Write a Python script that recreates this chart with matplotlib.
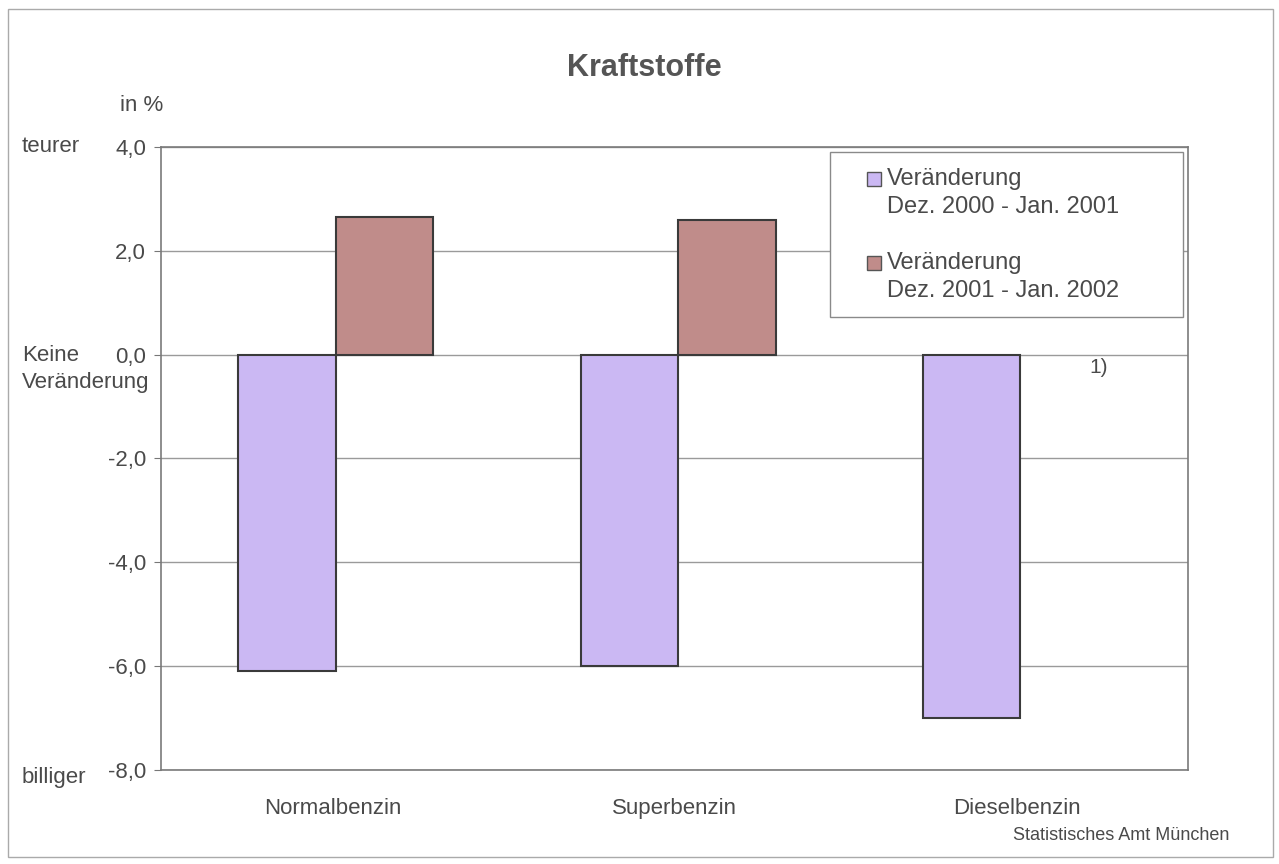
import matplotlib.pyplot as plt
import matplotlib.patches as mpatches
import numpy as np

plt.rcParams['font.family'] = ['Liberation Sans', 'DejaVu Sans']

# Kraftstoffpreise, Veraenderung in %
kategorien = ['Normalbenzin', 'Superbenzin', 'Dieselbenzin']
werte_2001 = [-6.1, -6.0, -7.0]
werte_2002 = [2.65, 2.6, np.nan]   # Diesel: siehe Fussnote 1)
label_2001 = ['Veränderung', 'Dez. 2000 - Jan. 2001']
label_2002 = ['Veränderung', 'Dez. 2001 - Jan. 2002']
yticks = [4.0, 2.0, 0.0, -2.0, -4.0, -6.0, -8.0]

farbe_lila = '#CBB8F3'
farbe_rot = '#C08C8A'
textfarbe = '#4a4a4a'

W, H = 1279, 864
fig = plt.figure(figsize=(W/100, H/100), dpi=100)
ax = fig.add_axes([0.126, 0.109, 0.803, 0.721])

x = np.arange(len(kategorien))
breite = 0.285
ax.bar(x - breite/2 + 0.01, werte_2001, breite, color=farbe_lila, edgecolor='#3a3a3a',
       linewidth=1.5, zorder=3)
ax.bar(x + breite/2 + 0.01, werte_2002, breite, color=farbe_rot, edgecolor='#3a3a3a',
       linewidth=1.5, zorder=3)

ax.set_xlim(-0.5, 2.5)
ax.set_ylim(-8, 4)
ax.set_yticks(yticks)
ax.set_yticklabels([('%.1f' % v).replace('.', ',') for v in yticks],
                   fontsize=16, color=textfarbe)
ax.set_xticks(x)
ax.set_xticklabels(kategorien, fontsize=16, color=textfarbe)
ax.tick_params(axis='x', length=0, pad=20)
ax.tick_params(axis='y', length=5, color='#777', pad=6)

ax.yaxis.grid(True, color='#9a9a9a', linewidth=1.0, zorder=0)
for s in ax.spines.values():
    s.set_color('#7a7a7a')
    s.set_linewidth(1.2)
    s.set_linestyle((0, (2, 1)))

ax.text(2.21, -0.25, '1)', fontsize=15, color=textfarbe, ha='left', va='center')

# Legende als Kasten mit zweizeiligen Eintraegen
def px(xp, yp):
    return xp / W, 1 - yp / H

lx0, ly0 = px(830, 317)
lx1, ly1 = px(1183, 152)
fig.add_artist(mpatches.Rectangle((lx0, ly0), lx1 - lx0, ly1 - ly0,
                                  transform=fig.transFigure, facecolor='white',
                                  edgecolor='#8a8a8a', linewidth=1.0, zorder=5))
for farbe, zeilen, ytop in [(farbe_lila, label_2001, 179), (farbe_rot, label_2002, 263)]:
    qx, qy = px(867, ytop + 7)
    fig.add_artist(mpatches.Rectangle((qx, qy), 14 / W, 14 / H, transform=fig.transFigure,
                                      facecolor=farbe, edgecolor='#555555',
                                      linewidth=1.0, zorder=6))
    for i, zeile in enumerate(zeilen):
        tx, ty = px(887, ytop + 28 * i)
        fig.text(tx, ty, zeile, fontsize=17, color=textfarbe, ha='left',
                 va='center', zorder=7)

fig.text(0.504, 0.921, 'Kraftstoffe', fontsize=22, fontweight='bold',
         color='#555555', ha='center', va='center')
fig.text(0.094, 0.878, 'in %', fontsize=16, color=textfarbe, ha='left', va='center')
fig.text(0.017, 0.830, 'teurer', fontsize=16, color=textfarbe, ha='left', va='center')
fig.text(0.017, 0.589, 'Keine', fontsize=16, color=textfarbe, ha='left', va='center')
fig.text(0.017, 0.557, 'Veränderung', fontsize=16, color=textfarbe, ha='left', va='center')
fig.text(0.017, 0.100, 'billiger', fontsize=16, color=textfarbe, ha='left', va='center')
fig.text(0.961, 0.033, 'Statistisches Amt München', fontsize=13, color=textfarbe,
         ha='right', va='center')

# Rahmen um die ganze Grafik
fig.add_artist(mpatches.Rectangle((0.006, 0.008), 0.989, 0.982, transform=fig.transFigure,
                                  fill=False, edgecolor='#aaaaaa', linewidth=1.0))

fig.savefig('out.png', dpi=100)
